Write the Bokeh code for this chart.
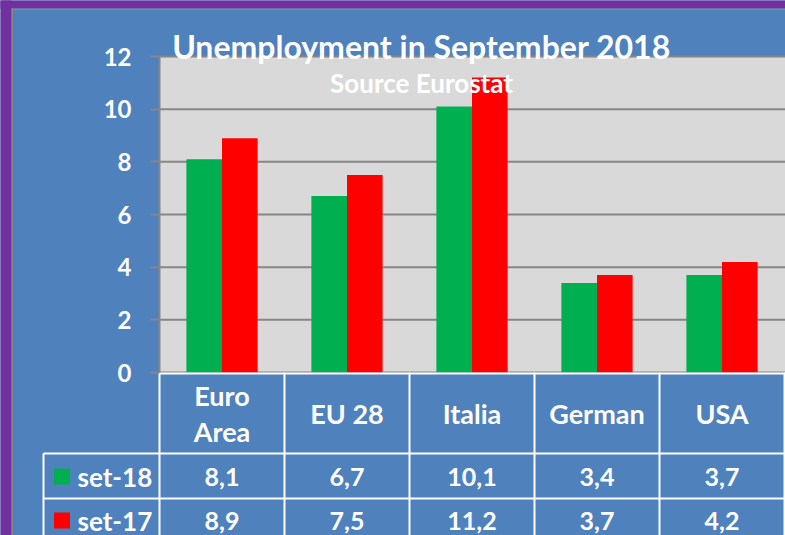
from bokeh.plotting import figure
from bokeh.models import Range1d, FixedTicker, Label, ColumnDataSource
from bokeh.embed import file_html
from bokeh.resources import INLINE
from bokeh.core.properties import value
from bokeh.transform import dodge

# ---- data ----
categories = ["Euro\nArea", "EU 28", "Italia", "German", "USA"]
set18 = [8.1, 6.7, 10.1, 3.4, 3.7]
set17 = [8.9, 7.5, 11.2, 3.7, 4.2]
series_names = ["set-18", "set-17"]
y_ticks = [0, 2, 4, 6, 8, 10, 12]
title_text = "Unemployment in September 2018"
subtitle_text = "Source Eurostat"

# ---- style ----
BLUE = "#4F81BD"
PURPLE = "#7030A0"
GRAY = "#868686"
PLOT_BG = "#D9D9D9"
GREEN = "#00B050"
RED = "#FF0000"
FONT = "Lato"

W, H = 785, 535
LEFT = 159          # pixel x of plot-area left edge
CAT_PX = 125.0      # pixel width of one category
BASE = 372          # pixel y of value 0
TOPPX = 56          # pixel y of value 12
PX_PER_UNIT = (BASE - TOPPX) / 12.0

def xd(px):
    return (px - LEFT) / CAT_PX

def yd(px):
    return (BASE - px) / PX_PER_UNIT

n = len(categories)
centers = [i + 0.5 for i in range(n)]
bar_w = 0.285

p = figure(width=W, height=H, x_range=Range1d(xd(0), xd(W)),
           y_range=Range1d(yd(H), yd(0)), output_backend="svg",
           toolbar_location=None, x_axis_location=None, y_axis_location="left",
           min_border=0)
p.background_fill_color = BLUE
p.border_fill_color = BLUE
p.outline_line_color = None
p.grid.visible = False

# outer purple frame with gray edge
p.quad(left=[xd(-5)], right=[xd(11)], bottom=[yd(H + 5)], top=[yd(-5)],
       fill_color=PURPLE, line_color=None)
p.quad(left=[xd(-5)], right=[xd(W + 5)], bottom=[yd(8)], top=[yd(-5)],
       fill_color=PURPLE, line_color=None)
p.quad(left=[xd(11)], right=[xd(12.5)], bottom=[yd(H + 5)], top=[yd(8)],
       fill_color=GRAY, line_color=None)
p.quad(left=[xd(11)], right=[xd(W + 5)], bottom=[yd(9.5)], top=[yd(8)],
       fill_color=GRAY, line_color=None)

# plot area
p.quad(left=[0], right=[xd(W + 5)], bottom=[0], top=[12],
       fill_color=PLOT_BG, line_color=None)
p.segment(x0=[0] * len(y_ticks), x1=[xd(W + 5)] * len(y_ticks), y0=y_ticks, y1=y_ticks,
          line_color=GRAY, line_width=2)

# y axis at the plot-area edge
ax = p.yaxis[0]
ax.fixed_location = 0
ax.bounds = (0, 12)
ax.ticker = FixedTicker(ticks=y_ticks)
ax.minor_tick_line_color = None
ax.major_tick_out = 9
ax.major_tick_in = 0
ax.major_tick_line_color = GRAY
ax.major_tick_line_width = 2
ax.axis_line_color = GRAY
ax.axis_line_width = 2
ax.major_label_text_color = "white"
ax.major_label_text_font = FONT
ax.major_label_text_font_style = "bold"
ax.major_label_text_font_size = "24px"
ax.major_label_standoff = 19

# bars
src = ColumnDataSource(dict(x=centers, set18=set18, set17=set17))
p.vbar(x=dodge("x", -bar_w / 2), top="set18", width=bar_w, source=src,
       fill_color=GREEN, line_color=None)
p.vbar(x=dodge("x", bar_w / 2), top="set17", width=bar_w, source=src,
       fill_color=RED, line_color=None)

# titles
p.add_layout(Label(x=xd(421), y=yd(46), text=title_text, text_align="center",
                   text_baseline="alphabetic", text_color="white", text_font=FONT,
                   text_font_style="bold", text_font_size="32px"))
p.add_layout(Label(x=xd(421), y=yd(82), text=subtitle_text, text_align="center",
                   text_baseline="alphabetic", text_color="white", text_font=FONT,
                   text_font_style="bold", text_font_size="26px"))

# ---- data table ----
hdr_bot = yd(453)
row_bot = yd(498)
tbl_bot = yd(H + 5)
leg_left = xd(43)
p.segment(x0=list(range(n + 1)), x1=list(range(n + 1)), y0=[0] * (n + 1),
          y1=[tbl_bot] * (n + 1), line_color="white", line_width=2)
p.segment(x0=[leg_left], x1=[leg_left], y0=[hdr_bot], y1=[tbl_bot],
          line_color="white", line_width=2)
p.segment(x0=[0, leg_left, leg_left], x1=[xd(W + 5)] * 3, y0=[yd(373), hdr_bot, row_bot],
          y1=[yd(373), hdr_bot, row_bot], line_color="white", line_width=2)

p.text(x=centers, y=[yd(413)] * n, text=categories, text_font=value(FONT),
       text_font_style="bold", text_font_size="27px", text_color="white",
       text_align="center", text_baseline="middle", text_line_height=1.07)

def fmt(v):
    return f"{v:.1f}".replace(".", ",")

row_y = [yd(476), yd(520)]
for vals, ry in zip([set18, set17], row_y):
    p.text(x=centers, y=[ry] * n, text=[fmt(v) for v in vals], text_font=value(FONT),
           text_font_style="bold", text_font_size="25px", text_color="white",
           text_align="center", text_baseline="middle")

p.rect(x=[xd(61.5)] * 2, y=[yd(476), yd(520)], width=16, height=16,
       width_units="screen", height_units="screen", fill_color=[GREEN, RED],
       line_color=None)
p.text(x=[xd(77)] * 2, y=row_y, text=series_names, text_font=value(FONT),
       text_font_style="bold", text_font_size="26px", text_color="white",
       text_align="left", text_baseline="middle")

open("out.html", "w").write(file_html(p, INLINE))
